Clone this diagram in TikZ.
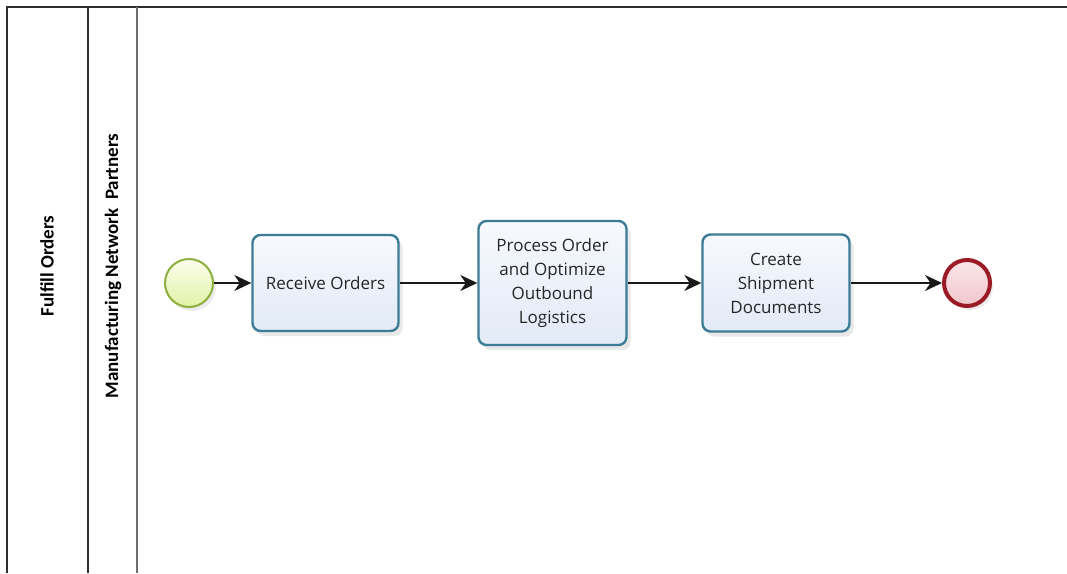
\documentclass[tikz,border=0pt]{standalone}
\usepackage{fontspec}
\setmainfont{Open Sans}
\newfontfamily\lanefont{Carlito}
\usetikzlibrary{arrows.meta,shadows}
\definecolor{poolline}{HTML}{2E2E2E}
\definecolor{laneline}{HTML}{6E6E6E}
\definecolor{taskborder}{HTML}{3C7C96}
\definecolor{tasktop}{HTML}{F7F9FD}
\definecolor{taskbottom}{HTML}{E2EAF7}
\definecolor{startborder}{HTML}{8CAF3E}
\definecolor{starttop}{HTML}{FBFEEC}
\definecolor{startbottom}{HTML}{E2F2A8}
\definecolor{endborder}{HTML}{9A1B25}
\definecolor{endtop}{HTML}{FBE6E8}
\definecolor{endbottom}{HTML}{F0C6CB}
\tikzset{
  lanelabel/.style={font=\lanefont\bfseries\fontsize{19}{21}\selectfont, rotate=90, inner sep=0pt},
  taskbox/.style={draw=taskborder, line width=2.4pt, rounded corners=8pt,
    top color=tasktop, bottom color=taskbottom, inner sep=0pt,
    align=center, font=\fontsize{17}{24}\selectfont, text=black!85,
    drop shadow={opacity=0.18, shadow xshift=4pt, shadow yshift=-5pt}},
  startevent/.style={circle, draw=startborder, line width=2pt, minimum size=48pt,
    top color=starttop, bottom color=startbottom, inner sep=0pt,
    drop shadow={opacity=0.15, shadow xshift=3pt, shadow yshift=-4pt}},
  endevent/.style={circle, draw=endborder, line width=4pt, minimum size=46pt,
    top color=endtop, bottom color=endbottom, inner sep=0pt,
    drop shadow={opacity=0.15, shadow xshift=3pt, shadow yshift=-4pt}},
  flow/.style={draw=black!90, line width=1.4pt,
    -{Stealth[length=17pt, width=16pt, inset=5.5pt]}},
}
\begin{document}
\begin{tikzpicture}[x=1pt, y=-1pt]
  \useasboundingbox (0,0) rectangle (1067,573);
  \fill[white] (0,0) rectangle (1067,573);

  % pool frame and lane separators
  \draw[poolline, line width=2pt] (7,573) -- (7,7) -- (1067,7);
  \draw[poolline, line width=2pt] (88,7) -- (88,573);
  \draw[laneline, line width=1.6pt] (137,7) -- (137,573);

  % pool and lane titles
  \node[lanelabel] (pool) at (47,266) {Fulfill Orders};
  \node[lanelabel] (lane) at (113,266) {Manufacturing Network\ \ Partners};

  % events and tasks
  \node[startevent] (start) at (189,283) {};
  \node[taskbox, minimum width=146pt, minimum height=96pt] (receive) at (325.5,283) {Receive Orders};
  \node[taskbox, minimum width=148pt, minimum height=124pt] (process) at (552.5,283)
    {Process Order\\and Optimize\\Outbound\\Logistics};
  \node[taskbox, minimum width=147pt, minimum height=97pt] (shipment) at (776,283)
    {Create\\Shipment\\Documents};
  \node[endevent] (end) at (967,283) {};

  % sequence flows
  \draw[flow] (start) -- (receive);
  \draw[flow] (receive) -- (process);
  \draw[flow] (process) -- (shipment);
  \draw[flow] (shipment) -- (end);
\end{tikzpicture}
\end{document}
